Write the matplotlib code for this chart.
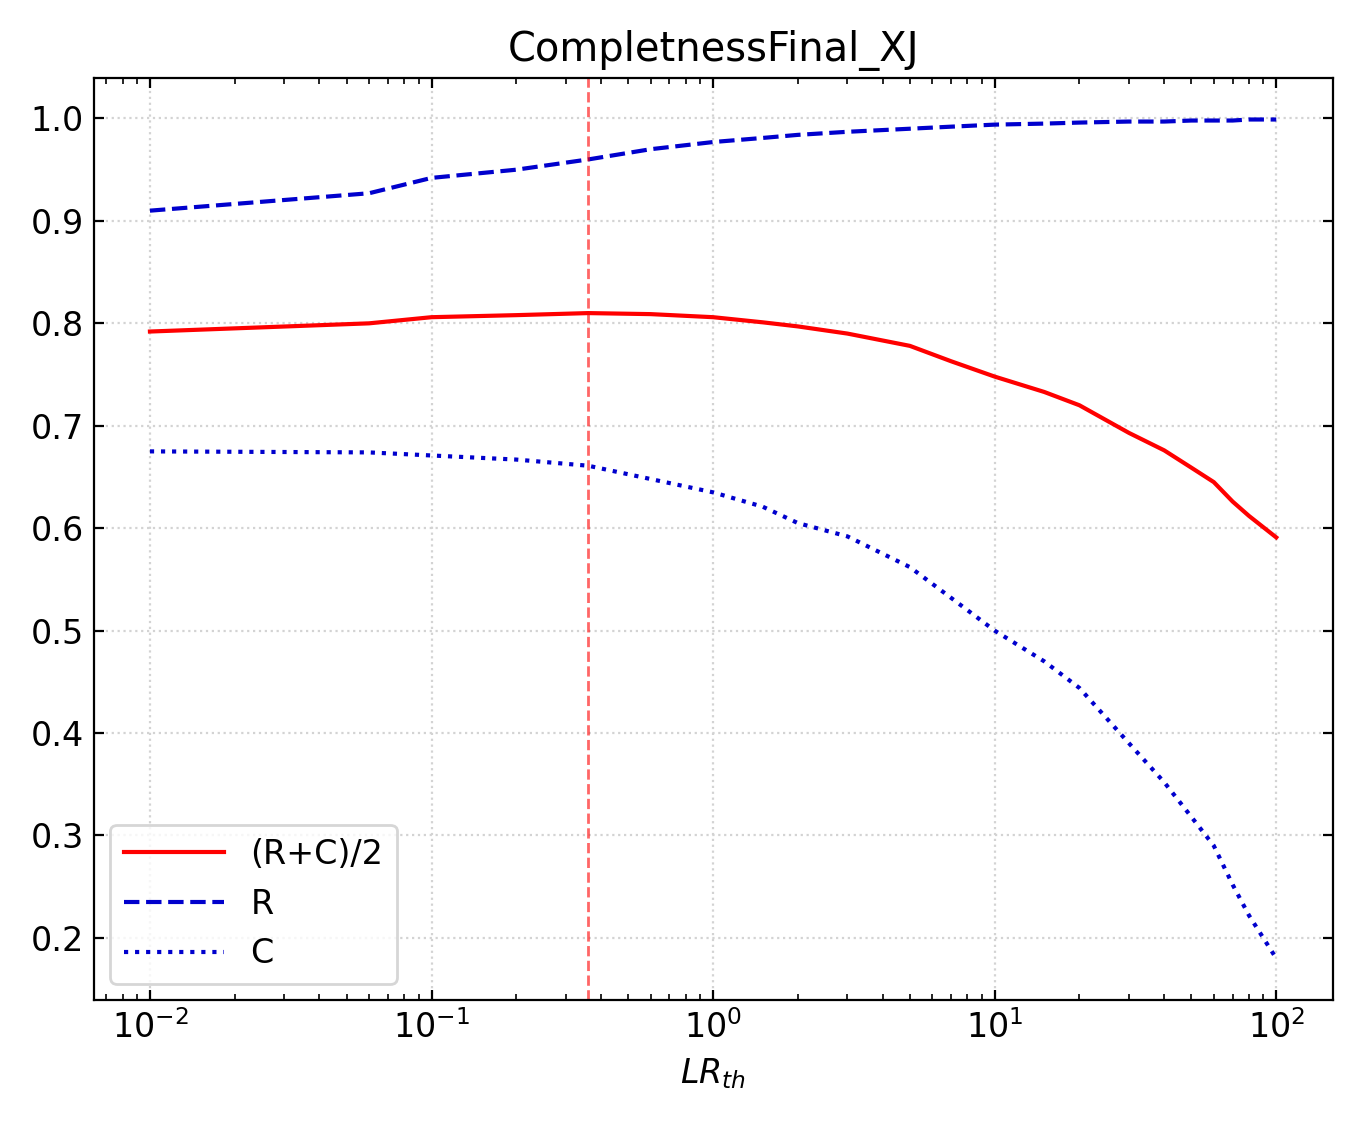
import matplotlib
matplotlib.use("Agg")
import matplotlib.pyplot as plt
from matplotlib.ticker import MultipleLocator

plt.rcParams['font.size'] = 12

lr = [0.01, 0.06, 0.1, 0.2, 0.36, 0.6, 1, 1.5, 2, 3, 5, 7, 10, 15, 20, 30, 40, 50, 60, 70, 80, 100]
rel = [0.91, 0.927, 0.942, 0.95, 0.96, 0.97, 0.977, 0.981, 0.984, 0.987, 0.99, 0.992, 0.994, 0.995, 0.996, 0.997, 0.997, 0.998, 0.998, 0.998, 0.999, 0.999]
avg = [0.792, 0.800, 0.806, 0.808, 0.810, 0.809, 0.806, 0.801, 0.797, 0.790, 0.778, 0.763, 0.748, 0.733, 0.720, 0.693, 0.676, 0.659, 0.645, 0.626, 0.612, 0.591]
comp = [0.675, 0.674, 0.671, 0.667, 0.661, 0.648, 0.635, 0.621, 0.605, 0.592, 0.562, 0.532, 0.500, 0.470, 0.444, 0.390, 0.352, 0.318, 0.290, 0.252, 0.222, 0.180]
lr_best = 0.359

fig, ax = plt.subplots(figsize=(6.785, 5.62), dpi=200)
ax.plot(lr, avg, color='red', lw=1.5, label='(R+C)/2')
ax.plot(lr, rel, color='mediumblue', lw=1.5, ls='--', label='R')
ax.plot(lr, comp, color='mediumblue', lw=1.5, ls=':', label='C')
ax.axvline(lr_best, color='red', alpha=0.6, lw=1, ls='--')
ax.set_xscale('log')
ax.yaxis.set_major_locator(MultipleLocator(0.1))
ax.set_xlabel('$LR_{th}$')
ax.set_title('CompletnessFinal_XJ')
ax.grid(True, ls=':', color='lightgray')
ax.tick_params(which='both', direction='in', top=True, right=True)
ax.legend(loc='lower left', fontsize=12, handlelength=3)
fig.subplots_adjust(left=0.069, right=0.982, top=0.931, bottom=0.11)
fig.savefig('out.png')
